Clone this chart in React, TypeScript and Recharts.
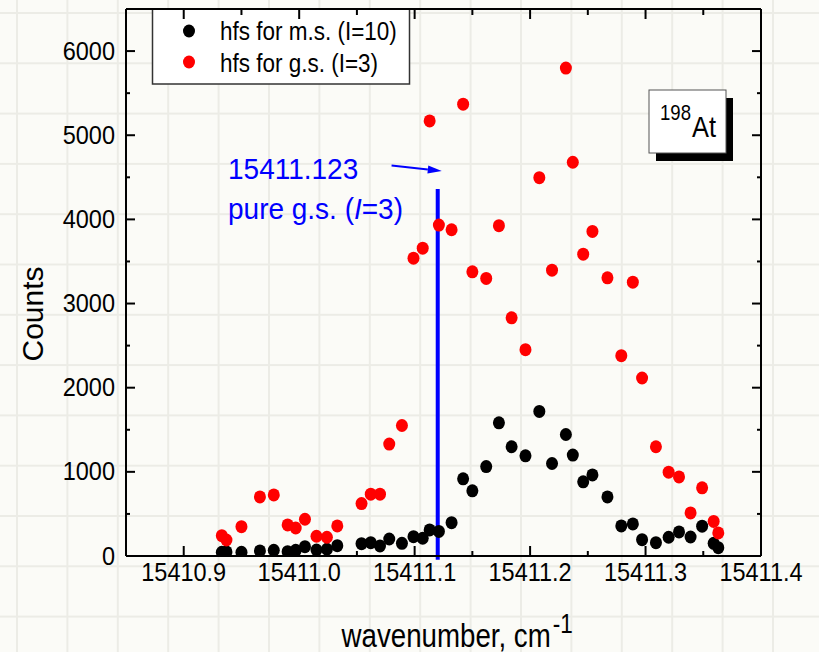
import React from "react";
import {
  ScatterChart,
  Scatter,
  XAxis,
  YAxis,
  ReferenceLine,
  Customized,
} from "recharts";

// scan positions, cm^-1
const wavenumber = [
  15410.933, 15410.937, 15410.95, 15410.966, 15410.978, 15410.99, 15410.997,
  15411.005, 15411.015, 15411.024, 15411.033, 15411.054, 15411.062, 15411.07,
  15411.078, 15411.089, 15411.099, 15411.107, 15411.113, 15411.121, 15411.132,
  15411.142, 15411.15, 15411.162, 15411.173, 15411.184, 15411.196, 15411.208,
  15411.219, 15411.231, 15411.237, 15411.246, 15411.254, 15411.267, 15411.279,
  15411.289, 15411.297, 15411.309, 15411.32, 15411.329, 15411.339, 15411.349,
  15411.359, 15411.363,
];

// hfs for m.s. (I=10)
const countsMs = [
  44, 48, 44, 60, 68, 51, 68, 111, 71, 80, 123, 146, 158, 119, 202, 151, 230,
  211, 310, 292, 396, 917, 774, 1063, 1583, 1298, 1190, 1718, 1099, 1444, 1199,
  881, 964, 702, 357, 381, 194, 158, 223, 286, 226, 354, 151, 99,
];

// hfs for g.s. (I=3)
const countsGs = [
  242, 190, 349, 702, 726, 369, 333, 437, 235, 223, 357, 623, 735, 735, 1330,
  1551, 3539, 3658, 5170, 3932, 3877, 5369, 3377, 3298, 3925, 2830, 2452, 4496,
  3396, 5798, 4679, 3587, 3857, 3306, 2381, 3254, 2115, 1298, 996, 940, 512,
  810, 411, 274,
];

const seriesNames = ["hfs for m.s. (I=10)", "hfs for g.s. (I=3)"];
const seriesColors = ["#000000", "#ff0000"];

const xMajorTicks = [15410.9, 15411.0, 15411.1, 15411.2, 15411.3, 15411.4];
const xMinorTicks = [15410.95, 15411.05, 15411.15, 15411.25, 15411.35];
const yMajorTicks = [0, 1000, 2000, 3000, 4000, 5000, 6000];
const yMinorTicks = [500, 1500, 2500, 3500, 4500, 5500];

const xDomain = [15410.85, 15411.4];
const yDomain = [0, 6500];

// pure g.s. marker line and the arrow pointing at it
const pureGsX = 15411.12;
const pureGsTop = 4360;
const arrowFrom = { x: 15411.08, y: 4640 };
const arrowTo = { x: 15411.1235, y: 4575 };

const FONT = '"Liberation Sans", Arial, Helvetica, sans-serif';
const BLUE = "#0000ff";

const msData = wavenumber.map((x, i) => ({ x, y: countsMs[i] }));
const gsData = wavenumber.map((x, i) => ({ x, y: countsGs[i] }));

const isMajor = (v: number, majors: number[]) =>
  majors.some((m) => Math.abs(m - v) < 1e-6);

// text that is a bit taller than wide, like the original export
function SText({
  x,
  y,
  size,
  sy = 1.13,
  anchor = "start",
  fill = "#000",
  children,
}: {
  x: number;
  y: number;
  size: number;
  sy?: number;
  anchor?: "start" | "middle" | "end";
  fill?: string;
  children: React.ReactNode;
}) {
  return (
    <text
      transform={`translate(${x} ${y}) scale(1 ${sy})`}
      fontSize={size}
      fontFamily={FONT}
      textAnchor={anchor}
      fill={fill}
    >
      {children}
    </text>
  );
}

const BottomTick = (props: any) => {
  const { x, y, payload } = props;
  const major = isMajor(payload.value, xMajorTicks);
  return (
    <g>
      <line x1={x} y1={y} x2={x} y2={y - (major ? 10 : 5)} stroke="#000" strokeWidth={2} />
      {major && (
        <SText x={x} y={y + 25} size={23.5} anchor="middle">
          {Number(payload.value).toFixed(1)}
        </SText>
      )}
    </g>
  );
};

const TopTick = (props: any) => {
  const { x, y, payload } = props;
  const major = isMajor(payload.value, xMajorTicks);
  return <line x1={x} y1={y} x2={x} y2={y + (major ? 10 : 6)} stroke="#000" strokeWidth={2} />;
};

const LeftTick = (props: any) => {
  const { x, y, payload } = props;
  const major = isMajor(payload.value, yMajorTicks);
  return (
    <g>
      <line x1={x} y1={y} x2={x + (major ? 9 : 4)} y2={y} stroke="#000" strokeWidth={2} />
      {major && (
        <SText x={x - 11} y={y + 8.5} size={23.5} anchor="end">
          {payload.value}
        </SText>
      )}
    </g>
  );
};

const RightTick = (props: any) => {
  const { x, y, payload } = props;
  const major = isMajor(payload.value, yMajorTicks);
  return <line x1={x} y1={y} x2={x - (major ? 9 : 4)} y2={y} stroke="#000" strokeWidth={2} />;
};

const dotShape = (fill: string) => (props: any) =>
  <ellipse cx={props.cx} cy={props.cy} rx={6} ry={6.5} fill={fill} />;

const ArrowShape = (props: any) => {
  const { x1, y1, x2, y2 } = props;
  const ang = Math.atan2(y2 - y1, x2 - x1);
  const len = 14;
  const half = 4;
  const bx = x2 - len * Math.cos(ang);
  const by = y2 - len * Math.sin(ang);
  const px = -Math.sin(ang) * half;
  const py = Math.cos(ang) * half;
  return (
    <g>
      <line x1={x1} y1={y1} x2={bx} y2={by} stroke={BLUE} strokeWidth={2} />
      <polygon
        points={`${x2},${y2} ${bx + px},${by + py} ${bx - px},${by - py}`}
        fill={BLUE}
      />
    </g>
  );
};

const Annotations = () => (
  <g>
    {/* legend */}
    <rect x={152.5} y={9} width={257} height={75} fill="#ffffff" stroke="#333" strokeWidth={1.5} />
    {seriesNames.map((name, i) => (
      <g key={name}>
        <ellipse cx={189} cy={31 + i * 31} rx={6} ry={6.5} fill={seriesColors[i]} />
        <SText x={220} y={40 + i * 31.5} size={22.5} sy={1.17}>
          {name}
        </SText>
      </g>
    ))}

    {/* isotope label */}
    <rect x={656} y={98} width={77} height={63} fill="#000" />
    <rect x={649} y={90} width={77} height={63} fill="#ffffff" stroke="#555" strokeWidth={1} />
    <SText x={660} y={119.5} size={18.6} sy={1.15}>
      198
    </SText>
    <SText x={692} y={137} size={25.4} sy={1.19}>
      At
    </SText>

    {/* blue note */}
    <SText x={228} y={178.5} size={28} sy={1.08} fill={BLUE}>
      15411.123
    </SText>
    <text
      transform="translate(228 218.5) scale(1 1.08)"
      fontSize={28}
      fontFamily={FONT}
      fill={BLUE}
    >
      pure g.s. (<tspan fontStyle="italic">I</tspan>=3)
    </text>

    {/* axis titles */}
    <text
      transform="translate(43 314) rotate(-90)"
      fontSize={30}
      fontFamily={FONT}
      textAnchor="middle"
      fill="#000"
    >
      Counts
    </text>
    <text
      transform="translate(341.5 646.5) scale(1 1.2)"
      fontSize={27.7}
      fontFamily={FONT}
      fill="#000"
    >
      wavenumber, cm
      <tspan dx={2} dy={-11.5} fontSize={22.5}>
        -1
      </tspan>
    </text>
  </g>
);

export default function App() {
  const xTicks = [...xMajorTicks, ...xMinorTicks].sort((a, b) => a - b);
  const yTicks = [...yMajorTicks, ...yMinorTicks].sort((a, b) => a - b);
  return (
    <div style={{ position: "absolute", left: 0, top: 0, width: 819, height: 652 }}>
      <svg
        width={819}
        height={652}
        style={{ position: "absolute", left: 0, top: 0 }}
      >
        <defs>
          <pattern id="paper" x={16} y={12} width={50.4} height={50.3} patternUnits="userSpaceOnUse">
            <rect width={50.4} height={50.3} fill="#fbfbf7" />
            <line x1={1} y1={0} x2={1} y2={50.3} stroke="#ececE6" strokeWidth={2} />
            <line x1={0} y1={1} x2={50.4} y2={1} stroke="#ececE6" strokeWidth={2} />
          </pattern>
        </defs>
        <rect width={819} height={652} fill="url(#paper)" />
      </svg>
      <ScatterChart
        width={819}
        height={652}
        margin={{ top: 8, right: 57, bottom: 0, left: 0 }}
      >
        <XAxis
          xAxisId="b"
          type="number"
          dataKey="x"
          domain={xDomain}
          ticks={xTicks}
          interval={0}
          height={96}
          allowDataOverflow
          tickSize={0}
          tickMargin={0}
          tickLine={false}
          tick={BottomTick}
          axisLine={{ stroke: "#000", strokeWidth: 2 }}
        />
        <XAxis
          xAxisId="t"
          orientation="top"
          type="number"
          dataKey="x"
          domain={xDomain}
          ticks={xTicks}
          interval={0}
          height={1}
          allowDataOverflow
          tickSize={0}
          tickMargin={0}
          tickLine={false}
          tick={TopTick}
          axisLine={{ stroke: "#000", strokeWidth: 2 }}
        />
        <YAxis
          yAxisId="l"
          type="number"
          dataKey="y"
          domain={yDomain}
          ticks={yTicks}
          interval={0}
          width={126}
          allowDataOverflow
          tickSize={0}
          tickMargin={0}
          tickLine={false}
          tick={LeftTick}
          axisLine={{ stroke: "#000", strokeWidth: 2 }}
        />
        <YAxis
          yAxisId="r"
          orientation="right"
          type="number"
          dataKey="y"
          domain={yDomain}
          ticks={yTicks}
          interval={0}
          width={1}
          allowDataOverflow
          tickSize={0}
          tickMargin={0}
          tickLine={false}
          tick={RightTick}
          axisLine={{ stroke: "#000", strokeWidth: 2 }}
        />
        <Scatter
          name={seriesNames[0]}
          data={msData}
          xAxisId="b"
          yAxisId="l"
          shape={dotShape(seriesColors[0])}
          isAnimationActive={false}
        />
        <Scatter
          name={seriesNames[1]}
          data={gsData}
          xAxisId="b"
          yAxisId="l"
          shape={dotShape(seriesColors[1])}
          isAnimationActive={false}
        />
        <ReferenceLine
          xAxisId="b"
          yAxisId="l"
          segment={[
            { x: pureGsX, y: -45 },
            { x: pureGsX, y: pureGsTop },
          ]}
          ifOverflow="visible"
          stroke={BLUE}
          strokeWidth={4}
        />
        <ReferenceLine
          xAxisId="b"
          yAxisId="l"
          segment={[arrowFrom, arrowTo]}
          ifOverflow="visible"
          shape={ArrowShape}
        />
        <Customized component={Annotations} />
      </ScatterChart>
    </div>
  );
}
